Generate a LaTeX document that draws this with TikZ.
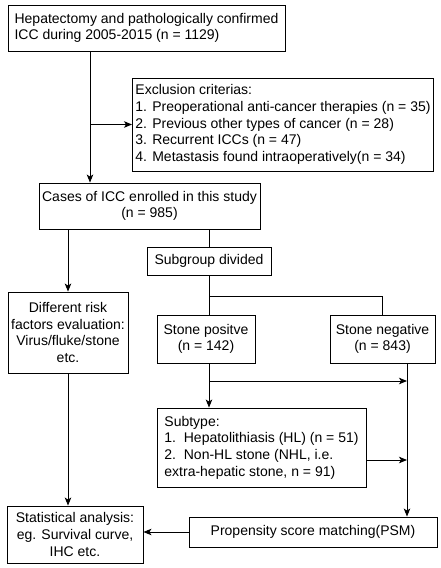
\documentclass[tikz,border=0pt]{standalone}
\usepackage{fontspec}
\setmainfont{Liberation Sans}
\usepackage{tikz}
\usetikzlibrary{arrows.meta}
\usetikzlibrary{positioning}

\tikzset{
  box/.style={draw=black, line width=0.9pt, inner xsep=3pt, inner ysep=0pt,
    font=\fontsize{14}{16.7}\selectfont},
  arr/.style={-{Stealth[length=8pt,width=6.5pt,inset=2pt]}, line width=0.9pt},
  ln/.style={line width=0.9pt}
}

\begin{document}
\begin{tikzpicture}[x=1pt,y=-1pt]
    \useasboundingbox (0,0) rectangle (440,568);
    \node[box, minimum width=277pt, minimum height=46pt, align=left] (top) at (146.5,28) {Hepatectomy and pathologically confirmed\\ICC during 2005-2015 (n = 1129)};
    \node[box, minimum width=300pt, minimum height=93pt, align=left] (excl) at (283,124.5) {Exclusion criterias:\\1. Preoperational anti-cancer therapies (n = 35)\\2. Previous other types of cancer (n = 28)\\3. Recurrent ICCs (n = 47)\\4. Metastasis found intraoperatively(n = 34)};
    \node[box, minimum width=221pt, minimum height=46pt, align=center] (cases) at (149.5,206) {Cases of ICC enrolled in this study\\(n = 985)};
    \node[box, minimum width=124pt, minimum height=28pt, align=center] (subgroup) at (209,261) {Subgroup divided};
    \node[box, minimum width=120pt, minimum height=81pt, align=center] (diff) at (68,332.5) {Different risk\\factors evaluation:\\Virus/fluke/stone\\etc.};
    \node[box, minimum width=98pt, minimum height=48pt, align=center] (pos) at (206,339) {Stone positve\\(n = 142)};
    \node[box, minimum width=105pt, minimum height=48pt, align=center] (neg) at (382.5,339) {Stone negative\\(n = 843)};
    \node[box, minimum width=209pt, minimum height=79pt, align=left] (subtype) at (261.5,447.5) {Subtype:\\1.\ \ Hepatolithiasis (HL) (n = 51)\\2.\ \ Non-HL stone (NHL, i.e.\\extra-hepatic stone, n = 91)};
    \node[box, minimum width=248pt, minimum height=30pt, align=center] (psm) at (313,532) {Propensity score matching(PSM)};
    \node[box, minimum width=136pt, minimum height=57pt, align=center] (stat) at (75,534.5) {Statistical analysis:\\eg. Survival curve,\\IHC etc.};

    \coordinate (mainline) at (90,0);
    \coordinate (split) at (209,296);
    \coordinate (posline) at (209,381);
    \coordinate (negline) at (407,0);

    \draw[arr] (mainline |- top.south) -- (mainline |- cases.north);
    \draw[arr] (mainline |- excl.west) -- (excl.west);
    \draw[arr] (diff.north |- cases.south) -- (diff.north);
    \draw[ln] (subgroup.north |- cases.south) -- (subgroup.north);
    \draw[ln] (subgroup.south) -- (subgroup.south |- pos.north);
    \draw[ln] (split) -| (neg.north);
    \draw[arr] (subgroup.south |- pos.south) -- (subgroup.south |- subtype.north);
    \draw[arr] (posline) -- (negline |- posline);
    \draw[arr] (negline |- neg.south) -- (negline |- psm.north);
    \draw[arr] (subtype.east |- 0,460) -- (negline |- 0,460);
    \draw[arr] (psm.west) -- (stat.east |- psm.west);
    \draw[arr] (diff.south) -- (diff.south |- stat.north);
\end{tikzpicture}
\end{document}
